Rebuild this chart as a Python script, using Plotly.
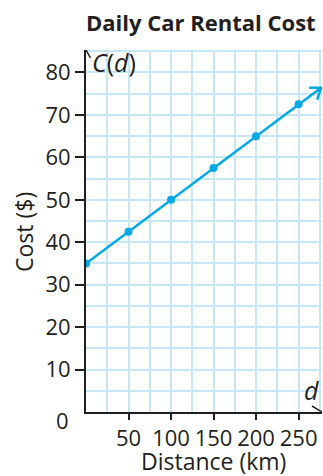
import plotly.graph_objects as go

# data
distance = [0, 50, 100, 150, 200, 250]
cost = [35, 42.5, 50, 57.5, 65, 72.5]
line_end = [276.5, 76.4]          # where the arrowhead of the line sits
x_ticks = [50, 100, 150, 200, 250]
y_ticks = [10, 20, 30, 40, 50, 60, 70, 80]

blue = "#00a9e6"
ink = "#231f20"
grid = "#c6e7f7"
font = "Open Sans"

fig = go.Figure()
fig.add_trace(go.Scatter(x=distance + [line_end[0]], y=cost + [line_end[1]],
                         mode="lines", line=dict(color=blue, width=2.5),
                         hoverinfo="skip"))
fig.add_trace(go.Scatter(x=distance, y=cost, mode="markers",
                         marker=dict(color=blue, size=8)))

# open chevron arrowheads (pixel paths anchored in data space)
def chevron(xa, ya, path, color, width):
    fig.add_shape(type="path", xref="x", yref="y", xsizemode="pixel", ysizemode="pixel",
                  xanchor=xa, yanchor=ya, path=path,
                  line=dict(color=color, width=width), layer="above")

chevron(line_end[0], line_end[1], "M -12,0 L 0,0 L -4,-12", blue, 2.5)
chevron(0, 85.3, "M -4.5,-8 L 0,0 L 4.5,-8", ink, 1.5)
chevron(277.5, 0, "M -10,6 L 0,0 L -10,-6", ink, 1.5)

fig.update_xaxes(range=[0, 277.5], tickvals=x_ticks, ticks="outside", ticklen=6,
                 tickwidth=1.5, tickcolor=ink, showline=True, linecolor=ink, linewidth=2,
                 showgrid=True, gridcolor=grid, gridwidth=1.5, zeroline=False,
                 minor=dict(dtick=25, tick0=0, showgrid=True, gridcolor=grid, gridwidth=1.5),
                 tickfont=dict(family=font, size=22, color=ink), ticklabelstandoff=0)
fig.update_yaxes(range=[0, 85.3], tickvals=y_ticks, ticks="outside", ticklen=9,
                 tickwidth=1.5, tickcolor=ink, showline=True, linecolor=ink, linewidth=2,
                 showgrid=True, gridcolor=grid, gridwidth=1.5, zeroline=False,
                 minor=dict(dtick=5, tick0=0, showgrid=True, gridcolor=grid, gridwidth=1.5),
                 tickfont=dict(family=font, size=22, color=ink), ticklabelstandoff=0)

ann = dict(showarrow=False, font=dict(family=font, size=23, color=ink))
fig.add_annotation(text="<b>Daily Car Rental Cost</b>", xref="paper", yref="paper",
                   x=1, y=1, xanchor="right", yanchor="middle", xshift=-4, yshift=28,
                   **{**ann, "font": dict(family=font, size=22, color=ink)})
fig.add_annotation(text="<i>C</i>(<i>d</i>)", xref="paper", yref="paper", x=0, y=1,
                   xanchor="left", yanchor="middle", xshift=4, yshift=-12,
                   **{**ann, "font": dict(family=font, size=25, color=ink)})
fig.add_annotation(text="<i>d</i>", xref="paper", yref="paper", x=1, y=0,
                   xanchor="center", yanchor="middle", xshift=-11, yshift=22,
                   **{**ann, "font": dict(family=font, size=25, color=ink)})
fig.add_annotation(text="0", xref="paper", yref="paper", x=0, y=0,
                   xanchor="center", yanchor="middle", xshift=-24, yshift=-8,
                   **{**ann, "font": dict(family=font, size=22, color=ink)})
fig.add_annotation(text="Cost ($)", xref="paper", yref="paper", x=0, y=0.5,
                   xanchor="center", yanchor="middle", xshift=-62, yshift=-1,
                   textangle=-90, **ann)
fig.add_annotation(text="Distance (km)", xref="paper", yref="paper", x=0.54, y=0,
                   xanchor="center", yanchor="middle", yshift=-49, **ann)

fig.update_layout(width=323, height=476, showlegend=False,
                  margin=dict(l=86, r=1, t=50, b=64),
                  plot_bgcolor="white", paper_bgcolor="white")

fig.write_html("out.html", config={"displayModeBar": False},
               post_script="document.body.style.margin='0';")
